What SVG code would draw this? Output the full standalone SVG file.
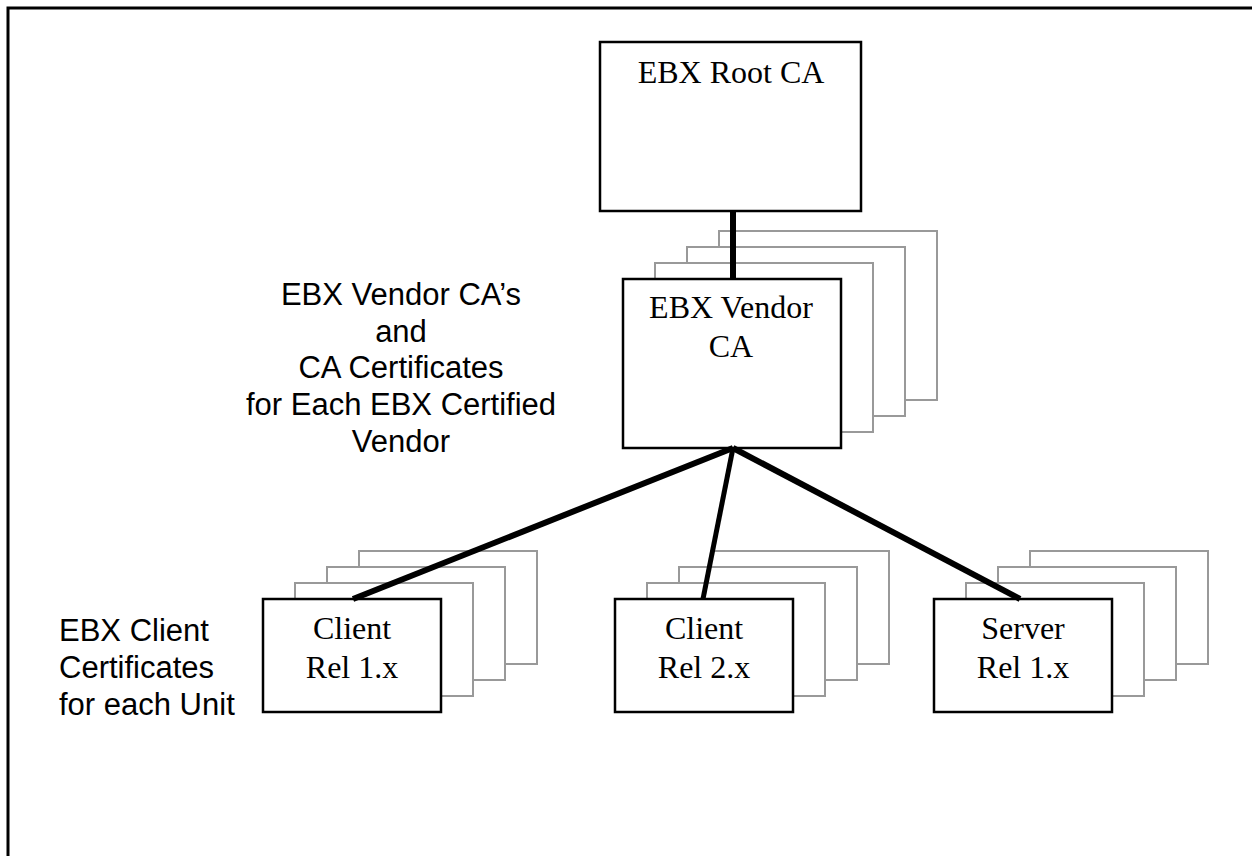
<svg xmlns="http://www.w3.org/2000/svg" width="1252" height="856" viewBox="0 0 1252 856">
<style>
.box{fill:#fff;stroke:#000;stroke-width:2.5}
.ghost{fill:#fff;stroke:#999;stroke-width:2}
.serif{font-family:"Liberation Serif","Times New Roman",serif;font-size:32px;fill:#000;text-anchor:middle}
.sans{font-family:"Liberation Sans",Arial,sans-serif;font-size:31px;fill:#000}
.conn{stroke:#000;stroke-width:6;fill:none}
</style>
<rect x="8" y="8" width="1270" height="880" fill="none" stroke="#000" stroke-width="3"/>
<g id="label-vendor" class="sans">
<text x="401" y="305" text-anchor="middle">EBX Vendor CA’s</text>
<text x="401" y="342" text-anchor="middle">and</text>
<text x="401" y="378" text-anchor="middle">CA Certificates</text>
<text x="401" y="415" text-anchor="middle">for Each EBX Certified</text>
<text x="401" y="452" text-anchor="middle">Vendor</text>
</g>
<g id="label-client" class="sans">
<text x="59" y="641">EBX Client</text>
<text x="59" y="678">Certificates</text>
<text x="59" y="715">for each Unit</text>
</g>
<g id="root-ca">
<rect class="box" x="600" y="42" width="261" height="169"/>
<text class="serif" x="731" y="83">EBX Root CA</text>
</g>
<g id="vendor-ca">
<rect class="ghost" x="719" y="231" width="218" height="169"/>
<rect class="ghost" x="687" y="247" width="218" height="169"/>
<rect class="ghost" x="655" y="263" width="218" height="169"/>
<rect class="box" x="623" y="279" width="218" height="169"/>
<text class="serif" x="731" y="318">EBX Vendor</text>
<text class="serif" x="731" y="357">CA</text>
</g>
<g id="client-rel1">
<rect class="ghost" x="359" y="551" width="178" height="113"/>
<rect class="ghost" x="327" y="567" width="178" height="113"/>
<rect class="ghost" x="295" y="583" width="178" height="113"/>
<rect class="box" x="263" y="599" width="178" height="113"/>
<text class="serif" x="352" y="639">Client</text>
<text class="serif" x="352" y="678">Rel 1.x</text>
</g>
<g id="client-rel2">
<rect class="ghost" x="711" y="551" width="178" height="113"/>
<rect class="ghost" x="679" y="567" width="178" height="113"/>
<rect class="ghost" x="647" y="583" width="178" height="113"/>
<rect class="box" x="615" y="599" width="178" height="113"/>
<text class="serif" x="704" y="639">Client</text>
<text class="serif" x="704" y="678">Rel 2.x</text>
</g>
<g id="server-rel1">
<rect class="ghost" x="1030" y="551" width="178" height="113"/>
<rect class="ghost" x="998" y="567" width="178" height="113"/>
<rect class="ghost" x="966" y="583" width="178" height="113"/>
<rect class="box" x="934" y="599" width="178" height="113"/>
<text class="serif" x="1023" y="639">Server</text>
<text class="serif" x="1023" y="678">Rel 1.x</text>
</g>
<g id="connectors">
<line class="conn" x1="733" y1="212" x2="733" y2="279"/>
<line class="conn" x1="733" y1="448" x2="353" y2="599"/>
<line class="conn" x1="733" y1="448" x2="703" y2="599" style="stroke-width:5"/>
<line class="conn" x1="733" y1="448" x2="1020" y2="599"/>
</g>
</svg>
